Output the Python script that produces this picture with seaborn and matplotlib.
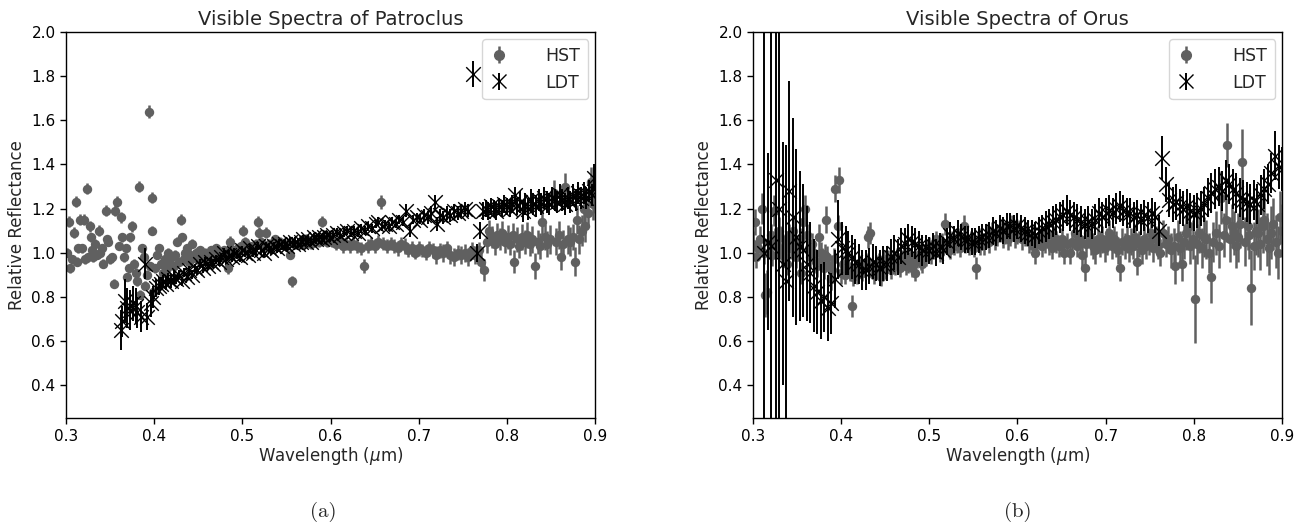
import numpy as np
import matplotlib
matplotlib.use("Agg")
import matplotlib.pyplot as plt
import seaborn as sns

# ---------------------------------------------------------------------------
# Patroclus - HST (grey dots)
# ---------------------------------------------------------------------------
pat_hst_wl = [
    0.301, 0.303, 0.305, 0.307, 0.309, 0.311, 0.312, 0.314, 0.316, 0.318,
    0.320, 0.322, 0.324, 0.325, 0.327, 0.328, 0.330, 0.331, 0.333, 0.335,
    0.337, 0.339, 0.341, 0.342, 0.345, 0.346, 0.348, 0.350, 0.352, 0.354,
    0.356, 0.358, 0.360, 0.362, 0.364, 0.366, 0.368, 0.369, 0.371, 0.373,
    0.375, 0.377, 0.379, 0.381, 0.383, 0.384, 0.386, 0.388, 0.390, 0.392,
    0.394, 0.395, 0.397, 0.398, 0.399, 0.401, 0.403, 0.406, 0.408, 0.410,
    0.412, 0.414, 0.416, 0.418, 0.420, 0.422, 0.424, 0.426, 0.428, 0.430,
    0.432, 0.434, 0.435, 0.437, 0.439, 0.441, 0.443, 0.445, 0.447, 0.449,
    0.452, 0.455, 0.458, 0.461, 0.464, 0.467, 0.470, 0.473, 0.476, 0.479,
    0.482, 0.484, 0.486, 0.489, 0.492, 0.495, 0.498, 0.501, 0.503, 0.506,
    0.509, 0.512, 0.515, 0.518, 0.519, 0.521, 0.524, 0.527, 0.530, 0.533,
    0.537, 0.540, 0.543, 0.546, 0.549, 0.552, 0.554, 0.556, 0.559, 0.563,
    0.566, 0.569, 0.572, 0.575, 0.578, 0.581, 0.584, 0.587, 0.590, 0.593,
    0.596, 0.599, 0.602, 0.606, 0.610, 0.614, 0.618, 0.622, 0.626, 0.630,
    0.634, 0.638, 0.642, 0.646, 0.650, 0.654, 0.657, 0.660, 0.664, 0.668,
    0.672, 0.676, 0.680, 0.684, 0.688, 0.692, 0.696, 0.700, 0.704, 0.708,
    0.712, 0.716, 0.720, 0.724, 0.728, 0.732, 0.736, 0.740, 0.744, 0.748,
    0.752, 0.756, 0.760, 0.764, 0.768, 0.771, 0.774, 0.777, 0.780, 0.783,
    0.786, 0.789, 0.792, 0.795, 0.798, 0.801, 0.804, 0.807, 0.808, 0.811,
    0.814, 0.817, 0.820, 0.823, 0.826, 0.829, 0.832, 0.835, 0.838, 0.840,
    0.843, 0.846, 0.849, 0.853, 0.856, 0.859, 0.861, 0.864, 0.866, 0.869,
    0.872, 0.875, 0.877, 0.879, 0.882, 0.885, 0.887, 0.889, 0.892, 0.895,
    0.898, 0.900,
]
pat_hst_refl = [
    1.00, 1.14, 0.93, 0.97, 1.09, 1.23, 0.96, 1.02, 1.15, 1.02,
    1.15, 0.97, 1.29, 0.98, 1.12, 1.07, 1.01, 0.98, 1.04, 0.99,
    1.10, 1.00, 1.02, 0.95, 1.19, 1.06, 1.05, 0.97, 0.98, 0.86,
    1.19, 1.23, 1.03, 1.16, 1.07, 0.98, 1.02, 0.89, 0.93, 1.07,
    1.12, 0.95, 0.91, 0.87, 1.30, 0.81, 1.02, 0.98, 0.85, 0.90,
    1.64, 0.94, 1.25, 1.10, 0.82, 0.93, 0.99, 1.02, 0.95, 0.91,
    0.97, 0.93, 1.00, 0.95, 0.98, 0.94, 0.99, 1.05, 0.96, 1.15,
    1.07, 0.97, 1.00, 1.02, 0.96, 0.99, 1.04, 0.98, 1.00, 0.97,
    1.01, 0.98, 1.00, 0.97, 1.01, 0.99, 1.02, 1.00, 0.98, 1.01,
    0.99, 0.93, 1.05, 1.01, 1.00, 1.02, 1.03, 1.10, 1.05, 1.01,
    1.03, 1.02, 1.04, 1.14, 1.09, 1.05, 1.03, 1.09, 1.04, 1.03,
    1.06, 1.04, 1.05, 1.04, 1.03, 1.04, 0.99, 0.87, 1.04, 1.04,
    1.05, 1.04, 1.06, 1.05, 1.04, 1.05, 1.06, 1.05, 1.14, 1.06,
    1.05, 1.06, 1.05, 1.04, 1.05, 1.03, 1.04, 1.03, 1.04, 1.03,
    1.02, 0.94, 1.03, 1.04, 1.03, 1.05, 1.23, 1.04, 1.03, 1.04,
    1.03, 1.02, 1.04, 1.03, 1.01, 1.02, 1.00, 1.02, 1.01, 1.00,
    1.02, 1.01, 0.99, 1.01, 1.00, 1.02, 0.99, 0.98, 1.00, 0.99,
    1.00, 0.98, 1.01, 0.99, 1.01, 0.96, 0.92, 1.05, 1.10, 1.07,
    1.04, 1.08, 1.06, 1.09, 1.05, 1.07, 1.04, 1.08, 0.96, 1.06,
    1.03, 1.07, 1.05, 1.08, 1.04, 1.06, 0.94, 1.05, 1.03, 1.14,
    1.07, 1.04, 1.06, 1.27, 1.05, 1.08, 0.98, 1.04, 1.30, 1.06,
    1.05, 1.07, 0.96, 1.15, 1.06, 1.10, 1.20, 1.12, 1.18, 1.32,
    1.22, 1.25,
]
pat_hst_err = [
    0.020, 0.025, 0.020, 0.020, 0.025, 0.025, 0.020, 0.020, 0.025, 0.020,
    0.025, 0.020, 0.025, 0.020, 0.025, 0.020, 0.020, 0.020, 0.020, 0.020,
    0.025, 0.020, 0.020, 0.020, 0.025, 0.020, 0.020, 0.020, 0.020, 0.020,
    0.025, 0.025, 0.020, 0.025, 0.020, 0.020, 0.020, 0.020, 0.020, 0.020,
    0.025, 0.020, 0.020, 0.020, 0.025, 0.020, 0.020, 0.020, 0.020, 0.020,
    0.030, 0.020, 0.025, 0.020, 0.020, 0.020, 0.020, 0.020, 0.020, 0.020,
    0.020, 0.020, 0.020, 0.020, 0.020, 0.020, 0.020, 0.020, 0.020, 0.025,
    0.020, 0.020, 0.020, 0.020, 0.020, 0.020, 0.020, 0.020, 0.020, 0.020,
    0.020, 0.020, 0.020, 0.020, 0.020, 0.020, 0.020, 0.020, 0.020, 0.020,
    0.020, 0.025, 0.025, 0.020, 0.020, 0.020, 0.020, 0.025, 0.020, 0.020,
    0.020, 0.020, 0.020, 0.025, 0.025, 0.020, 0.020, 0.025, 0.020, 0.020,
    0.020, 0.020, 0.020, 0.020, 0.020, 0.020, 0.020, 0.025, 0.020, 0.025,
    0.025, 0.025, 0.025, 0.025, 0.025, 0.025, 0.025, 0.025, 0.025, 0.025,
    0.025, 0.025, 0.025, 0.030, 0.030, 0.030, 0.030, 0.030, 0.030, 0.030,
    0.030, 0.030, 0.030, 0.030, 0.030, 0.030, 0.030, 0.030, 0.030, 0.030,
    0.030, 0.035, 0.030, 0.035, 0.030, 0.035, 0.030, 0.035, 0.030, 0.035,
    0.035, 0.035, 0.040, 0.035, 0.040, 0.035, 0.040, 0.040, 0.035, 0.040,
    0.040, 0.040, 0.040, 0.040, 0.040, 0.050, 0.050, 0.050, 0.050, 0.050,
    0.050, 0.055, 0.050, 0.055, 0.050, 0.055, 0.050, 0.055, 0.050, 0.055,
    0.055, 0.060, 0.055, 0.060, 0.055, 0.060, 0.060, 0.055, 0.060, 0.060,
    0.060, 0.060, 0.065, 0.060, 0.060, 0.065, 0.060, 0.065, 0.060, 0.065,
    0.065, 0.060, 0.065, 0.065, 0.065, 0.070, 0.065, 0.070, 0.065, 0.070,
    0.070, 0.070,
]

# ---------------------------------------------------------------------------
# Patroclus - LDT (black crosses)
# ---------------------------------------------------------------------------
pat_ldt_wl = [
    0.362, 0.364, 0.367, 0.369, 0.373, 0.376, 0.379, 0.381, 0.385, 0.390,
    0.392, 0.396, 0.399, 0.402, 0.405, 0.408, 0.410, 0.413, 0.416, 0.419,
    0.422, 0.425, 0.428, 0.431, 0.434, 0.437,
    0.440, 0.443, 0.446, 0.449, 0.452, 0.455, 0.458, 0.461, 0.464, 0.467,
    0.470, 0.473, 0.476, 0.479, 0.482, 0.485, 0.488, 0.491, 0.494, 0.497,
    0.500, 0.503, 0.506, 0.509, 0.512, 0.515, 0.518, 0.521, 0.524, 0.527,
    0.530, 0.533, 0.536, 0.539, 0.542, 0.545, 0.548, 0.551, 0.554, 0.557,
    0.560, 0.563, 0.566, 0.569, 0.572, 0.575, 0.578, 0.581, 0.584, 0.587,
    0.590, 0.593, 0.596, 0.599, 0.603, 0.607, 0.611, 0.615, 0.619, 0.623,
    0.627, 0.631, 0.635, 0.639, 0.643, 0.647, 0.651, 0.654, 0.658, 0.662,
    0.666, 0.670, 0.674, 0.678, 0.682, 0.686, 0.690, 0.694, 0.698, 0.702,
    0.706, 0.710, 0.714, 0.718, 0.721, 0.724, 0.728, 0.732, 0.736, 0.740,
    0.744, 0.748, 0.752, 0.756, 0.761, 0.766, 0.769, 0.773, 0.776, 0.779,
    0.782, 0.785, 0.788, 0.791, 0.794, 0.797, 0.800, 0.803, 0.806, 0.809,
    0.812, 0.815, 0.818, 0.821, 0.824, 0.827, 0.830, 0.833, 0.836, 0.839,
    0.842, 0.845, 0.848, 0.851, 0.854, 0.857, 0.860, 0.863, 0.866, 0.869,
    0.872, 0.875, 0.878, 0.881, 0.884, 0.887, 0.890, 0.893, 0.896, 0.899,
]
pat_ldt_refl = [
    0.65, 0.69, 0.78, 0.75, 0.74, 0.77, 0.76, 0.73, 0.71, 0.95,
    0.71, 0.77, 0.80, 0.84, 0.85, 0.86, 0.87, 0.86, 0.88, 0.87,
    0.89, 0.88, 0.90, 0.87, 0.91, 0.89,
    0.92, 0.90, 0.93, 0.92, 0.95, 0.93, 0.96, 0.94, 0.96, 0.95,
    0.97, 0.96, 0.98, 1.00, 0.97, 0.99, 0.98, 1.00, 0.99, 0.98,
    1.01, 1.00, 0.99, 1.02, 1.00, 1.01, 1.03, 1.01, 1.00, 1.03,
    1.02, 1.01, 1.03, 1.02, 1.04, 1.03, 1.04, 1.03, 1.05, 1.04,
    1.05, 1.04, 1.05, 1.06, 1.05, 1.06, 1.05, 1.07, 1.06, 1.07,
    1.06, 1.07, 1.08, 1.07, 1.08, 1.09, 1.08, 1.09, 1.10, 1.09,
    1.10, 1.09, 1.11, 1.10, 1.12, 1.11, 1.13, 1.14, 1.12, 1.13,
    1.12, 1.14, 1.13, 1.15, 1.14, 1.19, 1.10, 1.15, 1.16, 1.15,
    1.17, 1.16, 1.18, 1.23, 1.13, 1.17, 1.16, 1.18, 1.17, 1.19,
    1.18, 1.19, 1.20, 1.19, 1.81, 1.00, 1.10, 1.19, 1.20, 1.19,
    1.21, 1.20, 1.19, 1.21, 1.20, 1.22, 1.21, 1.20, 1.22, 1.26,
    1.21, 1.23, 1.19, 1.22, 1.20, 1.24, 1.22, 1.21, 1.24, 1.22,
    1.25, 1.23, 1.22, 1.25, 1.24, 1.23, 1.26, 1.24, 1.22, 1.25,
    1.23, 1.26, 1.24, 1.27, 1.25, 1.27, 1.25, 1.28, 1.26, 1.34,
]
pat_ldt_err = [
    0.09, 0.07, 0.10, 0.09, 0.09, 0.08, 0.08, 0.07, 0.07, 0.07,
    0.06, 0.06, 0.05, 0.04, 0.04, 0.03, 0.03, 0.03, 0.03, 0.03,
    0.03, 0.02, 0.02, 0.02, 0.02, 0.02,
    0.02, 0.02, 0.02, 0.02, 0.02, 0.02, 0.02, 0.02, 0.02, 0.02,
    0.02, 0.02, 0.02, 0.02, 0.02, 0.02, 0.02, 0.02, 0.02, 0.02,
    0.02, 0.02, 0.02, 0.02, 0.02, 0.02, 0.02, 0.02, 0.02, 0.02,
    0.02, 0.02, 0.02, 0.02, 0.02, 0.02, 0.02, 0.02, 0.02, 0.02,
    0.02, 0.02, 0.02, 0.02, 0.02, 0.02, 0.02, 0.02, 0.02, 0.02,
    0.02, 0.02, 0.02, 0.02, 0.02, 0.02, 0.02, 0.02, 0.02, 0.02,
    0.02, 0.02, 0.02, 0.02, 0.02, 0.02, 0.02, 0.02, 0.02, 0.02,
    0.02, 0.02, 0.02, 0.02, 0.02, 0.03, 0.03, 0.02, 0.02, 0.02,
    0.03, 0.03, 0.03, 0.03, 0.03, 0.03, 0.03, 0.03, 0.03, 0.03,
    0.03, 0.03, 0.03, 0.03, 0.06, 0.04, 0.04, 0.04, 0.04, 0.04,
    0.04, 0.04, 0.04, 0.04, 0.04, 0.04, 0.04, 0.04, 0.04, 0.04,
    0.04, 0.05, 0.05, 0.05, 0.05, 0.05, 0.05, 0.05, 0.05, 0.05,
    0.05, 0.05, 0.05, 0.05, 0.05, 0.05, 0.05, 0.05, 0.05, 0.05,
    0.05, 0.05, 0.05, 0.05, 0.05, 0.05, 0.05, 0.05, 0.05, 0.06,
]

# ---------------------------------------------------------------------------
# Orus - HST (grey dots)
# ---------------------------------------------------------------------------
orus_hst_wl = [
    0.300, 0.302, 0.304, 0.306, 0.308, 0.310, 0.312, 0.314, 0.316, 0.318,
    0.320, 0.322, 0.324, 0.325, 0.327, 0.329, 0.331, 0.333, 0.335, 0.337,
    0.339, 0.341, 0.343, 0.345, 0.347, 0.349, 0.351, 0.353, 0.355, 0.357,
    0.359, 0.361, 0.363, 0.365, 0.367, 0.369, 0.371, 0.373, 0.375, 0.377,
    0.378, 0.380, 0.382, 0.383, 0.384, 0.386, 0.388, 0.390, 0.392, 0.393,
    0.396, 0.398, 0.400, 0.402, 0.404, 0.406, 0.408, 0.410, 0.412, 0.414,
    0.416, 0.418, 0.420, 0.422, 0.424, 0.426, 0.428, 0.431, 0.433, 0.435,
    0.437, 0.439, 0.441, 0.443, 0.445, 0.447, 0.449, 0.451, 0.453, 0.455,
    0.457, 0.459, 0.461, 0.463, 0.465, 0.467, 0.469, 0.471, 0.473, 0.476,
    0.478, 0.480, 0.482, 0.484, 0.486, 0.488, 0.490, 0.492, 0.494, 0.496,
    0.498, 0.500, 0.502, 0.504, 0.506, 0.508, 0.510, 0.512, 0.514, 0.516,
    0.518, 0.520, 0.522, 0.524, 0.526, 0.528, 0.531, 0.533, 0.535, 0.537,
    0.539, 0.541, 0.543, 0.545, 0.547, 0.549, 0.551, 0.553, 0.555, 0.557,
    0.559, 0.562, 0.565, 0.568, 0.571, 0.574, 0.577, 0.580, 0.583, 0.586,
    0.589, 0.592, 0.594, 0.597, 0.600, 0.602, 0.605, 0.608, 0.610, 0.613,
    0.616, 0.618, 0.620, 0.622, 0.625, 0.628, 0.631, 0.633, 0.636, 0.639,
    0.641, 0.644, 0.647, 0.650, 0.653, 0.656, 0.659, 0.662, 0.665, 0.668,
    0.671, 0.673, 0.676, 0.678, 0.680, 0.683, 0.686, 0.688, 0.691, 0.694,
    0.696, 0.699, 0.702, 0.704, 0.707, 0.710, 0.712, 0.714, 0.716, 0.719,
    0.722, 0.724, 0.727, 0.729, 0.731, 0.733, 0.735, 0.738, 0.741, 0.743,
    0.746, 0.749, 0.751, 0.754, 0.757, 0.759, 0.762, 0.765, 0.768, 0.771,
    0.774, 0.777, 0.779, 0.782, 0.784, 0.786, 0.789, 0.791, 0.794, 0.796,
    0.799, 0.801, 0.804, 0.806, 0.809, 0.811, 0.814, 0.817, 0.820, 0.822,
    0.825, 0.828, 0.831, 0.834, 0.837, 0.838, 0.841, 0.843, 0.845, 0.848,
    0.850, 0.852, 0.855, 0.858, 0.861, 0.863, 0.865, 0.868, 0.870, 0.873,
    0.875, 0.878, 0.880, 0.883, 0.885, 0.888, 0.890, 0.893, 0.895, 0.898,
    0.900,
]
orus_hst_refl = [
    1.04, 1.14, 0.98, 1.02, 1.06, 1.20, 1.00, 0.81, 0.82, 1.05,
    1.08, 0.99, 1.19, 1.06, 1.03, 1.10, 1.07, 0.99, 1.01, 1.05,
    0.95, 1.08, 1.02, 1.10, 1.04, 0.98, 1.03, 1.06, 0.91, 1.14,
    1.20, 1.08, 1.02, 0.98, 1.04, 1.00, 0.96, 0.94, 1.07, 1.00,
    0.97, 0.93, 0.99, 1.15, 0.98, 0.94, 0.88, 0.92, 0.97, 1.29,
    1.12, 1.33, 0.91, 0.95, 0.90, 0.92, 0.94, 0.91, 0.76, 0.89,
    0.93, 0.90, 0.95, 0.94, 0.91, 0.93, 0.96, 1.07, 1.09, 0.93,
    0.90, 0.95, 0.92, 0.96, 0.89, 0.94, 0.97, 0.93, 0.97, 0.95,
    0.92, 0.96, 0.94, 0.98, 0.95, 0.93, 0.97, 0.99, 0.94, 0.95,
    0.98, 0.93, 0.96, 0.91, 0.97, 0.99, 0.96, 0.95, 1.00, 0.98,
    1.02, 1.03, 0.99, 1.04, 1.01, 1.06, 1.02, 1.00, 1.05, 1.03,
    1.13, 1.04, 1.02, 1.01, 1.06, 1.03, 1.04, 1.07, 1.02, 1.05,
    1.12, 1.04, 1.06, 1.03, 1.06, 1.04, 1.02, 0.93, 1.05, 1.03,
    1.06, 1.04, 1.07, 1.05, 1.09, 1.06, 1.08, 1.10, 1.07, 1.09,
    1.06, 1.08, 1.12, 1.07, 1.09, 1.10, 1.06, 1.08, 1.09, 1.05,
    1.07, 1.03, 1.00, 1.04, 1.06, 1.03, 1.05, 1.09, 1.04, 1.02,
    1.07, 1.05, 1.03, 1.06, 1.00, 1.04, 1.00, 1.05, 1.09, 1.03,
    1.06, 0.99, 0.93, 1.04, 1.09, 1.05, 1.03, 1.01, 1.06, 1.04,
    1.06, 1.02, 1.05, 1.09, 1.03, 1.06, 1.04, 1.01, 0.93, 1.05,
    1.03, 1.06, 1.02, 1.05, 1.03, 1.07, 0.96, 1.04, 1.01, 1.06,
    1.03, 1.05, 1.09, 1.02, 1.06, 1.03, 1.00, 1.09, 1.04, 1.06,
    1.01, 1.03, 0.94, 1.07, 1.02, 0.95, 1.05, 1.09, 1.12, 1.03,
    1.06, 0.79, 1.04, 1.09, 1.02, 1.07, 1.06, 1.00, 0.89, 1.05,
    1.09, 1.03, 1.25, 1.08, 1.15, 1.49, 1.06, 1.12, 1.09, 1.03,
    1.07, 1.13, 1.41, 1.05, 1.12, 1.08, 0.84, 1.03, 1.10, 1.09,
    1.04, 1.12, 1.15, 1.06, 1.02, 1.09, 1.13, 1.05, 1.00, 1.16,
    1.10,
]
orus_hst_err = [
    0.06, 0.06, 0.05, 0.05, 0.06, 0.07, 0.05, 0.10, 0.10, 0.05,
    0.05, 0.05, 0.07, 0.05, 0.05, 0.06, 0.05, 0.05, 0.05, 0.05,
    0.05, 0.05, 0.05, 0.06, 0.05, 0.05, 0.05, 0.05, 0.05, 0.06,
    0.06, 0.05, 0.05, 0.05, 0.05, 0.05, 0.05, 0.05, 0.06, 0.05,
    0.05, 0.05, 0.05, 0.06, 0.05, 0.05, 0.05, 0.05, 0.05, 0.06,
    0.05, 0.06, 0.05, 0.04, 0.04, 0.04, 0.04, 0.04, 0.05, 0.04,
    0.04, 0.04, 0.04, 0.04, 0.04, 0.04, 0.04, 0.05, 0.05, 0.04,
    0.04, 0.04, 0.04, 0.04, 0.04, 0.04, 0.04, 0.04, 0.04, 0.04,
    0.04, 0.04, 0.04, 0.04, 0.04, 0.04, 0.04, 0.04, 0.04, 0.04,
    0.04, 0.04, 0.04, 0.04, 0.04, 0.04, 0.04, 0.04, 0.04, 0.04,
    0.04, 0.04, 0.04, 0.04, 0.04, 0.04, 0.04, 0.04, 0.04, 0.04,
    0.05, 0.04, 0.04, 0.04, 0.04, 0.04, 0.04, 0.04, 0.04, 0.04,
    0.05, 0.04, 0.04, 0.04, 0.04, 0.04, 0.04, 0.05, 0.04, 0.04,
    0.05, 0.05, 0.05, 0.05, 0.05, 0.05, 0.05, 0.05, 0.05, 0.05,
    0.05, 0.05, 0.05, 0.05, 0.05, 0.05, 0.05, 0.05, 0.05, 0.05,
    0.05, 0.05, 0.05, 0.05, 0.05, 0.05, 0.05, 0.05, 0.05, 0.05,
    0.05, 0.05, 0.05, 0.05, 0.05, 0.05, 0.05, 0.05, 0.05, 0.05,
    0.06, 0.06, 0.06, 0.06, 0.06, 0.06, 0.06, 0.06, 0.06, 0.06,
    0.06, 0.06, 0.06, 0.06, 0.06, 0.06, 0.06, 0.06, 0.06, 0.06,
    0.06, 0.06, 0.06, 0.06, 0.06, 0.06, 0.06, 0.06, 0.06, 0.06,
    0.06, 0.06, 0.06, 0.06, 0.06, 0.06, 0.06, 0.06, 0.06, 0.06,
    0.08, 0.08, 0.08, 0.08, 0.08, 0.08, 0.08, 0.08, 0.08, 0.08,
    0.09, 0.20, 0.09, 0.09, 0.09, 0.09, 0.09, 0.09, 0.12, 0.09,
    0.10, 0.10, 0.12, 0.10, 0.10, 0.10, 0.10, 0.10, 0.10, 0.10,
    0.11, 0.11, 0.15, 0.11, 0.11, 0.11, 0.17, 0.11, 0.11, 0.11,
    0.12, 0.12, 0.12, 0.12, 0.12, 0.12, 0.12, 0.12, 0.12, 0.12,
    0.12,
]

# ---------------------------------------------------------------------------
# Orus - LDT (black crosses)
# ---------------------------------------------------------------------------
orus_ldt_wl = [
    0.312, 0.317, 0.321, 0.326, 0.330, 0.334, 0.337, 0.341, 0.345, 0.349,
    0.353, 0.357, 0.361, 0.365, 0.369, 0.373, 0.377, 0.381, 0.385, 0.389,
    0.393, 0.397, 0.401, 0.405, 0.408, 0.412, 0.416, 0.420, 0.424, 0.428,
    0.432, 0.436, 0.440, 0.444, 0.448, 0.452, 0.456, 0.460, 0.464, 0.468,
    0.472, 0.476, 0.480, 0.484, 0.488, 0.492, 0.496, 0.500, 0.504, 0.508,
    0.512, 0.516, 0.520, 0.524, 0.528, 0.532, 0.536, 0.540, 0.544, 0.548,
    0.552, 0.556, 0.560, 0.564, 0.568, 0.572, 0.576, 0.580, 0.584, 0.588,
    0.592, 0.596, 0.600, 0.604, 0.608, 0.612, 0.616, 0.620, 0.624, 0.628,
    0.632, 0.636, 0.640, 0.644, 0.648, 0.652, 0.656, 0.660, 0.664, 0.668,
    0.672, 0.676, 0.680, 0.684, 0.688, 0.692, 0.696, 0.700, 0.704, 0.708,
    0.712, 0.716, 0.720, 0.724, 0.728, 0.732, 0.736, 0.740, 0.744, 0.748,
    0.752, 0.756, 0.760, 0.764, 0.768, 0.772, 0.776, 0.780, 0.784, 0.788,
    0.792, 0.796, 0.800, 0.804, 0.808, 0.812, 0.816, 0.820, 0.824, 0.828,
    0.832, 0.836, 0.840, 0.844, 0.848, 0.852, 0.856, 0.860, 0.864, 0.868,
    0.872, 0.876, 0.880, 0.884, 0.888, 0.892, 0.896, 0.900,
]
orus_ldt_refl = [
    1.00, 1.05, 1.03, 1.33, 1.20, 0.95, 0.87, 1.28, 1.16, 1.07,
    1.03, 1.01, 0.95, 0.91, 0.85, 0.82, 0.78, 0.80, 0.75, 0.77,
    0.88, 1.06, 1.02, 1.01, 1.00, 0.98, 0.96, 0.95, 0.92, 0.92,
    0.94, 0.96, 0.95, 0.93, 0.95, 0.95, 0.98, 1.00, 0.98, 1.03,
    1.04, 1.06, 1.05, 1.04, 1.03, 1.01, 1.02, 1.01, 1.03, 1.00,
    1.03, 1.01, 1.05, 1.08, 1.06, 1.09, 1.07, 1.06, 1.06, 1.05,
    1.05, 1.06, 1.07, 1.07, 1.08, 1.10, 1.09, 1.11, 1.10, 1.12,
    1.12, 1.11, 1.12, 1.11, 1.10, 1.09, 1.09, 1.08, 1.10, 1.11,
    1.12, 1.13, 1.14, 1.15, 1.16, 1.17, 1.19, 1.17, 1.16, 1.15,
    1.14, 1.13, 1.14, 1.13, 1.15, 1.18, 1.16, 1.18, 1.19, 1.18,
    1.20, 1.21, 1.19, 1.18, 1.18, 1.16, 1.17, 1.15, 1.17, 1.16,
    1.18, 1.16, 1.10, 1.43, 1.31, 1.24, 1.22, 1.23, 1.21, 1.20,
    1.21, 1.19, 1.18, 1.19, 1.20, 1.22, 1.25, 1.27, 1.29, 1.30,
    1.28, 1.33, 1.31, 1.29, 1.27, 1.25, 1.24, 1.23, 1.22, 1.24,
    1.22, 1.26, 1.29, 1.31, 1.36, 1.44, 1.39, 1.38,
]
orus_ldt_err = [
    1.60, 0.40, 1.50, 1.40, 1.30, 0.55, 0.62, 0.50, 0.45, 0.40,
    0.34, 0.30, 0.26, 0.23, 0.21, 0.19, 0.17, 0.16, 0.15, 0.14,
    0.13, 0.18, 0.12, 0.11, 0.10, 0.10, 0.10, 0.09, 0.09, 0.09,
    0.08, 0.08, 0.08, 0.08, 0.08, 0.08, 0.08, 0.08, 0.08, 0.08,
    0.07, 0.07, 0.07, 0.07, 0.07, 0.07, 0.06, 0.06, 0.06, 0.06,
    0.06, 0.06, 0.06, 0.06, 0.06, 0.06, 0.06, 0.06, 0.06, 0.06,
    0.06, 0.06, 0.06, 0.06, 0.06, 0.06, 0.06, 0.06, 0.06, 0.06,
    0.06, 0.06, 0.06, 0.06, 0.06, 0.06, 0.06, 0.06, 0.06, 0.06,
    0.07, 0.07, 0.07, 0.07, 0.07, 0.07, 0.07, 0.07, 0.07, 0.07,
    0.07, 0.07, 0.07, 0.07, 0.07, 0.07, 0.07, 0.07, 0.07, 0.07,
    0.07, 0.07, 0.07, 0.07, 0.07, 0.07, 0.07, 0.07, 0.07, 0.07,
    0.07, 0.07, 0.07, 0.10, 0.08, 0.08, 0.08, 0.08, 0.08, 0.08,
    0.08, 0.08, 0.08, 0.08, 0.08, 0.08, 0.09, 0.09, 0.09, 0.09,
    0.09, 0.09, 0.09, 0.09, 0.09, 0.09, 0.09, 0.09, 0.09, 0.09,
    0.09, 0.09, 0.09, 0.09, 0.09, 0.11, 0.10, 0.10,
]

titles = ["Visible Spectra of Patroclus", "Visible Spectra of Orus"]
captions = ["(a)", "(b)"]
x_ticks = [0.3, 0.4, 0.5, 0.6, 0.7, 0.8, 0.9]
y_ticks = [0.4, 0.6, 0.8, 1.0, 1.2, 1.4, 1.6, 1.8, 2.0]

HST_COLOR = "#606060"
LDT_COLOR = "black"

sns.set_theme(style="ticks", rc={
    "axes.edgecolor": "black",
    "xtick.color": "black",
    "ytick.color": "black",
    "axes.linewidth": 1.0,
})
plt.rcParams["font.family"] = ["DejaVu Sans"]
plt.rcParams["mathtext.fontset"] = "dejavusans"

fig = plt.figure(figsize=(13.07, 5.22), dpi=100)
ax_pat = fig.add_axes([0.0505, 0.199, 0.4048, 0.7395])
ax_orus = fig.add_axes([0.5761, 0.199, 0.4048, 0.7395])

panels = [
    (ax_pat, pat_hst_wl, pat_hst_refl, pat_hst_err, pat_ldt_wl, pat_ldt_refl, pat_ldt_err),
    (ax_orus, orus_hst_wl, orus_hst_refl, orus_hst_err, orus_ldt_wl, orus_ldt_refl, orus_ldt_err),
]

for i, (ax, hw, hr, he, lw, lr, le) in enumerate(panels):
    # error bars first, markers drawn by seaborn on top
    ax.errorbar(hw, hr, yerr=he, fmt="none", ecolor=HST_COLOR, elinewidth=1.8, zorder=2)
    sns.scatterplot(x=hw, y=hr, ax=ax, color=HST_COLOR, marker="o", s=46,
                    linewidth=0, legend=False, zorder=2.5)
    ax.errorbar(lw, lr, yerr=le, fmt="none", ecolor=LDT_COLOR, elinewidth=1.4, zorder=3)
    sns.scatterplot(x=lw, y=lr, ax=ax, color=LDT_COLOR, marker="x", s=110,
                    linewidth=1.0, legend=False, zorder=3.5)

    # legend proxies that show marker + vertical bar
    h1 = ax.errorbar([np.nan], [np.nan], yerr=[0.05], fmt="o", color=HST_COLOR,
                     ms=7, elinewidth=1.8, label="HST")
    h2 = ax.errorbar([np.nan], [np.nan], yerr=[0.05], fmt="x", color=LDT_COLOR,
                     ms=10.5, mew=1.0, elinewidth=1.4, label="LDT")
    ax.legend(handles=[h1, h2], loc="upper right", fontsize=12.5, frameon=True,
              fancybox=True, edgecolor="#cccccc", handlelength=1.0,
              handletextpad=2.2, borderpad=0.45, borderaxespad=0.4)

    ax.set_xlim(0.3, 0.9)
    ax.set_ylim(0.25, 2.0)
    ax.set_xticks(x_ticks)
    ax.set_yticks(y_ticks)
    ax.set_xticklabels([f"{t:.1f}" for t in x_ticks])
    ax.set_yticklabels([f"{t:.1f}" for t in y_ticks])
    ax.tick_params(labelsize=11, length=4, width=1)
    ax.set_title(titles[i], fontsize=14, pad=5)
    ax.set_xlabel(r"Wavelength ($\mu$m)", fontsize=12, labelpad=1)
    ax.set_ylabel("Relative Reflectance", fontsize=12, labelpad=4)
    for sp in ax.spines.values():
        sp.set_visible(True)

fig.text(0.2475, 0.019, captions[0], ha="center", va="center", family="cmr10", fontsize=15)
fig.text(0.779, 0.019, captions[1], ha="center", va="center", family="cmr10", fontsize=15)

fig.savefig("out.png", dpi=100)
